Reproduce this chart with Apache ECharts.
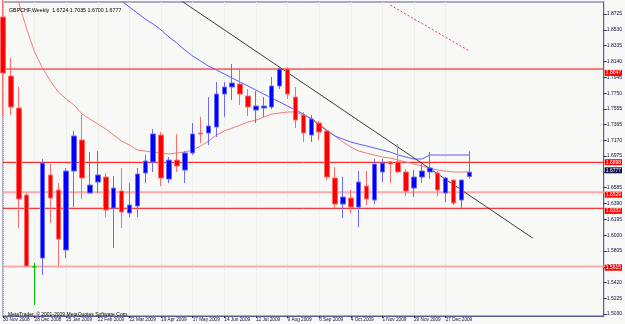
<!DOCTYPE html>
<html>
<head>
<meta charset="utf-8">
<script src="https://cdn.jsdelivr.net/npm/echarts@6/dist/echarts.min.js"></script>
<style>
  html, body { margin: 0; padding: 0; background: #f8f8f6; }
  #chart { width: 625px; height: 324px; }
</style>
</head>
<body>
<div id="chart"></div>
<script>
// GBPCHF weekly, 30 Nov 2008 .. 17 Jan 2010

const WEEKS = [
  "30 Nov 2008", "7 Dec 2008", "14 Dec 2008", "21 Dec 2008", "28 Dec 2008",
  "4 Jan 2009", "11 Jan 2009", "18 Jan 2009", "25 Jan 2009",
  "1 Feb 2009", "8 Feb 2009", "15 Feb 2009", "22 Feb 2009",
  "1 Mar 2009", "8 Mar 2009", "15 Mar 2009", "22 Mar 2009", "29 Mar 2009",
  "5 Apr 2009", "12 Apr 2009", "19 Apr 2009", "26 Apr 2009",
  "3 May 2009", "10 May 2009", "17 May 2009", "24 May 2009", "31 May 2009",
  "7 Jun 2009", "14 Jun 2009", "21 Jun 2009", "28 Jun 2009",
  "5 Jul 2009", "12 Jul 2009", "19 Jul 2009", "26 Jul 2009",
  "2 Aug 2009", "9 Aug 2009", "16 Aug 2009", "23 Aug 2009", "30 Aug 2009",
  "6 Sep 2009", "13 Sep 2009", "20 Sep 2009", "27 Sep 2009",
  "4 Oct 2009", "11 Oct 2009", "18 Oct 2009", "25 Oct 2009",
  "1 Nov 2009", "8 Nov 2009", "15 Nov 2009", "22 Nov 2009", "29 Nov 2009",
  "6 Dec 2009", "13 Dec 2009", "20 Dec 2009", "27 Dec 2009",
  "3 Jan 2010", "10 Jan 2010", "17 Jan 2010",
];
const EMPTY_WEEKS = 17; // free space right of the last bar

const OPEN = [
  1.8688, 1.7961, 1.7567, 1.6495, 1.5612, 1.5719, 1.6742, 1.6557, 1.5818, 1.6791,
  1.7173, 1.6520, 1.6655, 1.6717, 1.6335, 1.6545, 1.6274, 1.6360, 1.6766, 1.6902,
  1.7234, 1.6692, 1.6926, 1.6803, 1.7013, 1.7259, 1.7259, 1.7333, 1.7739, 1.7826,
  1.7862, 1.7715, 1.7542, 1.7567, 1.7579, 1.7838, 1.8047, 1.7702, 1.7481, 1.7234,
  1.7382, 1.7284, 1.6705, 1.6384, 1.6458, 1.6347, 1.6606, 1.6434, 1.6779, 1.6902,
  1.6902, 1.6779, 1.6581, 1.6717, 1.6779, 1.6766, 1.6520, 1.6680, 1.6434, 1.6724,
];
const CLOSE = [
  1.7998, 1.7579, 1.6446, 1.5621, 1.5612, 1.6889, 1.6458, 1.5953, 1.6791, 1.7222,
  1.6705, 1.6618, 1.6742, 1.6310, 1.6581, 1.6286, 1.6372, 1.6754, 1.6914, 1.7247,
  1.6705, 1.6926, 1.6852, 1.7013, 1.7247, 1.7247, 1.7345, 1.7739, 1.7826, 1.7875,
  1.7739, 1.7579, 1.7591, 1.7591, 1.7838, 1.8047, 1.7739, 1.7419, 1.7259, 1.7431,
  1.7271, 1.6717, 1.6384, 1.6471, 1.6347, 1.6655, 1.6446, 1.6877, 1.6889, 1.6877,
  1.6779, 1.6545, 1.6717, 1.6791, 1.6828, 1.6557, 1.6705, 1.6397, 1.6680, 1.6777,
];
const LOW = [
  1.7481, 1.7481, 1.6089, 1.5615, 1.5140, 1.5510, 1.6150, 1.5621, 1.5719, 1.6347,
  1.6446, 1.6515, 1.6520, 1.6224, 1.5842, 1.6089, 1.6224, 1.6224, 1.6643, 1.6779,
  1.6606, 1.6643, 1.6779, 1.6643, 1.6988, 1.7136, 1.7111, 1.7210, 1.7456, 1.7665,
  1.7604, 1.7468, 1.7382, 1.7456, 1.7554, 1.7801, 1.7678, 1.7320, 1.7148, 1.7148,
  1.7173, 1.6680, 1.6335, 1.6212, 1.6274, 1.6101, 1.6372, 1.6384, 1.6655, 1.6643,
  1.6766, 1.6483, 1.6471, 1.6643, 1.6692, 1.6483, 1.6409, 1.6372, 1.6323, 1.6700,
];
const HIGH = [
  1.8950, 1.8183, 1.7826, 1.6520, 1.5658, 1.6939, 1.6877, 1.6643, 1.6828, 1.7284,
  1.7481, 1.7025, 1.7037, 1.6766, 1.6729, 1.6828, 1.6643, 1.6828, 1.6988, 1.7308,
  1.7271, 1.6963, 1.7247, 1.7037, 1.7382, 1.7456, 1.7702, 1.7887, 1.7887, 1.8109,
  1.8059, 1.7801, 1.7776, 1.7702, 1.7949, 1.8072, 1.8072, 1.7826, 1.7518, 1.7481,
  1.7407, 1.7290, 1.6840, 1.6717, 1.6557, 1.6791, 1.6791, 1.6939, 1.6939, 1.6914,
  1.7123, 1.6815, 1.6803, 1.6889, 1.7025, 1.6791, 1.6717, 1.6685, 1.6685, 1.7035,
];

// moving averages as drawn on the chart
const MA_RED = [
  1.9501, 1.9180, 1.8860, 1.8540, 1.8257, 1.8060, 1.7899, 1.7764, 1.7678, 1.7604,
  1.7493, 1.7431, 1.7370, 1.7308, 1.7234, 1.7160, 1.7111, 1.7049, 1.7037, 1.7025,
  1.7013, 1.7000, 1.7013, 1.7025, 1.7049, 1.7099, 1.7160, 1.7234, 1.7284, 1.7320,
  1.7357, 1.7394, 1.7419, 1.7456, 1.7493, 1.7505, 1.7518, 1.7518, 1.7481, 1.7444,
  1.7370, 1.7296, 1.7222, 1.7148, 1.7086, 1.7037, 1.7013, 1.6988, 1.6963, 1.6951,
  1.6926, 1.6902, 1.6877, 1.6852, 1.6828, 1.6803, 1.6791, 1.6779, 1.6779, 1.6779,
];
const MA_BLUE = [
  "-", "-", "-", "-", "-", "-", "-", "-", "-", "-",
  "-", "-", "-", "-", 1.8959, 1.8885, 1.8811, 1.8737, 1.8663, 1.8601,
  1.8528, 1.8441, 1.8367, 1.8281, 1.8207, 1.8146, 1.8084, 1.8035, 1.7986, 1.7936,
  1.7887, 1.7838, 1.7788, 1.7739, 1.7690, 1.7641, 1.7591, 1.7542, 1.7493, 1.7431,
  1.7357, 1.7284, 1.7222, 1.7185, 1.7148, 1.7123, 1.7099, 1.7074, 1.7049, 1.7025,
  1.6988, 1.6963, 1.6939, 1.6939, 1.6988, 1.6988, 1.6988, 1.6988, 1.6988, 1.6988,
];

// drawn objects
const TREND_BLACK = [[22, 1.8924], [67, 1.5966]];
const TREND_RED = [[49, 1.8835], [59, 1.8269]];
const LEVELS_RED = [1.8047, 1.6898, 1.6332];
const LEVELS_PINK = [1.6529, 1.5615];
const LAST_PRICE = 1.6777;

const Y_TICKS = [
  1.8725, 1.8530, 1.8335, 1.8140, 1.7946, 1.7750, 1.7555, 1.7365, 1.7170, 1.6975,
  1.6780, 1.6585, 1.6390, 1.6195, 1.6000, 1.5805, 1.5610, 1.5420, 1.5225, 1.5030,
];
const Y_MIN = 1.50054;
const Y_MAX = 1.88728;

const FONT = "Liberation Sans";
const categories = WEEKS.concat(
  Array.from({ length: EMPTY_WEEKS }, (_, k) => "w" + (WEEKS.length + k))
);
const LAST_SLOT = categories.length - 1;
const candles = OPEN.map((o, i) => [o, CLOSE[i], LOW[i], HIGH[i]]);
const showDate = (index) => index % 4 === 0 && index < WEEKS.length;

// price box on the right axis, the mark line itself stays invisible
function priceTag(value, bg) {
  return {
    silent: true,
    symbol: "none",
    animation: false,
    lineStyle: { color: "rgba(0,0,0,0)", width: 0 },
    data: [{ yAxis: value }],
    label: {
      show: true,
      position: "end",
      distance: 1,
      formatter: value.toFixed(4),
      color: "#ffffff",
      backgroundColor: bg,
      fontSize: 5,
      fontFamily: FONT,
      padding: [1, 1, 0, 1],
    },
  };
}

function levelSeries(value, color, width) {
  return {
    type: "line",
    data: [[0, value], [LAST_SLOT, value]],
    symbol: "none",
    silent: true,
    z: 1,
    lineStyle: { color: color, width: width },
    markLine: priceTag(value, "#ff0000"),
  };
}

const chart = echarts.init(document.getElementById("chart"));
const option = {
  animation: false,
  backgroundColor: "#f8f8f6",
  title: [
    {
      text: "GBPCHF,Weekly  1.6724 1.7035 1.6700 1.6777",
      left: 4,
      top: 3,
      textStyle: { fontSize: 5.3, fontWeight: "normal", color: "#000000", fontFamily: FONT },
    },
    {
      text: "MetaTrader, © 2001-2009 MetaQuotes Software Corp.",
      left: 3,
      top: 307,
      textStyle: { fontSize: 5, fontWeight: "normal", color: "#000000", fontFamily: FONT },
    },
  ],
  grid: {
    left: 2,
    right: 19,
    top: 2,
    bottom: 8,
    show: true,
    borderColor: "#5c5c94",
    borderWidth: 1,
  },
  xAxis: {
    type: "category",
    data: categories,
    boundaryGap: false,
    axisLine: { lineStyle: { color: "#5c5c94" } },
    axisTick: { interval: (i) => showDate(i), length: 2, lineStyle: { color: "#303060" } },
    axisLabel: {
      interval: (i) => showDate(i),
      fontSize: 4.7,
      fontFamily: FONT,
      color: "#101040",
      align: "left",
      margin: 1,
    },
    splitLine: {
      show: true,
      interval: (i) => showDate(i),
      lineStyle: { color: "#dfe5df", type: "dotted" },
    },
  },
  yAxis: {
    type: "value",
    position: "right",
    min: Y_MIN,
    max: Y_MAX,
    axisLine: { show: true, lineStyle: { color: "#5c5c94" } },
    axisTick: { show: true, length: 3, customValues: Y_TICKS, lineStyle: { color: "#303060" } },
    axisLabel: {
      customValues: Y_TICKS,
      formatter: (v) => v.toFixed(4),
      fontSize: 5,
      fontFamily: FONT,
      color: "#101040",
      margin: 3,
    },
    splitLine: { show: false },
  },
  series: [
    ...LEVELS_RED.map((v) => levelSeries(v, "#ff0000", 1)),
    ...LEVELS_PINK.map((v) => levelSeries(v, "#ffa8a8", 2)),
    {
      name: "last price",
      type: "line",
      data: [],
      markLine: priceTag(LAST_PRICE, "#10104a"),
    },
    {
      name: "MA red",
      type: "line",
      data: MA_RED,
      symbol: "none",
      z: 2,
      lineStyle: { color: "#f07c7c", width: 1 },
    },
    {
      name: "MA blue",
      type: "line",
      data: MA_BLUE,
      symbol: "none",
      z: 2,
      lineStyle: { color: "#5a5aff", width: 1 },
    },
    {
      name: "trend",
      type: "line",
      data: TREND_BLACK,
      symbol: "none",
      z: 2,
      lineStyle: { color: "#3a3a3a", width: 1 },
    },
    {
      name: "trend red",
      type: "line",
      data: TREND_RED,
      symbol: "none",
      z: 2,
      lineStyle: { color: "#ff3030", width: 1, type: [2, 2] },
    },
    {
      name: "GBPCHF",
      type: "candlestick",
      data: candles,
      barWidth: 5,
      z: 3,
      itemStyle: {
        color: "#0000ff",
        color0: "#ff0000",
        borderColor: "#6a6aff",
        borderColor0: "#ff6a6a",
        borderColorDoji: "#00c800",
        borderWidth: 1,
      },
    },
  ],
};
chart.setOption(option);
</script>
</body>
</html>
